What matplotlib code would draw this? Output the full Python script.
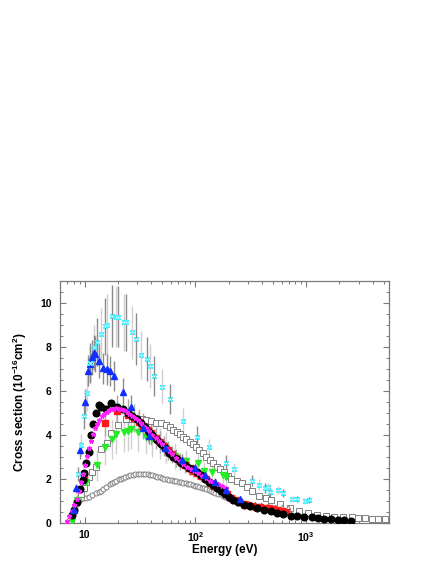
import numpy as np
import matplotlib
matplotlib.use('Agg')
import matplotlib.pyplot as plt
from matplotlib.ticker import FixedLocator, MultipleLocator, LogLocator, NullFormatter

plt.rcParams['font.family'] = ['Liberation Sans', 'DejaVu Sans']
plt.rcParams['mathtext.fontset'] = 'custom'
plt.rcParams['mathtext.rm'] = 'Liberation Sans'
plt.rcParams['mathtext.bf'] = 'Liberation Sans:bold'
plt.rcParams['mathtext.default'] = 'bf'

# --- data (energy in eV, cross section in 1e-16 cm^2) ---
cyan_x = [8.8, 9.33, 9.9, 10.5, 11.1, 12.1, 13.0, 13.95, 15.2, 16.0, 17.8, 19.1, 20.0,
          22.5, 23.8, 27.0, 28.9, 32.2, 36.9, 39.3, 42.1, 50.0, 58.9, 77.6, 104.5, 132,
          189, 223, 327, 373, 426, 456, 473, 555, 615, 742, 822, 980, 1070]
cyan_y = [2.23, 3.55, 4.88, 5.9, 7.26, 7.98, 8.24, 8.58, 8.95, 9.0, 9.41, 9.38, 9.38,
          9.12, 9.12, 8.67, 8.36, 7.64, 7.44, 7.14, 6.68, 6.2, 5.64, 4.62, 3.92, 3.44,
          2.74, 2.44, 1.91, 1.73, 1.58, 1.62, 1.42, 1.5, 1.38, 1.08, 1.08, 1.01, 1.05]
cyan_err = [0.3, 0.5, 0.6, 0.8, 0.9, 1.0, 1.1, 1.2, 1.3, 1.4, 1.4, 1.4, 1.4,
            1.3, 1.3, 1.2, 1.2, 1.1, 1.0, 1.0, 0.9, 0.8, 0.7, 0.6, 0.5, 0.4,
            0.35, 0.3, 0.25, 0.25, 0.22, 0.22, 0.22, 0.2, 0.18, 0.14, 0.14, 0.14, 0.14]

blue_x = [8.07, 8.4, 9.1, 10.1, 10.7, 11.1, 11.65, 12.1, 12.5, 13.4, 14.8, 16.0, 17.1,
          18.3, 22.2, 26.4, 33.5, 38, 53.6, 75, 100, 122, 150, 190, 253]
blue_y = [0.6, 1.58, 3.3, 5.51, 6.92, 7.23, 7.53, 7.74, 7.68, 7.38, 7.03, 6.99, 6.91,
          6.68, 5.97, 5.26, 4.3, 3.97, 3.39, 2.85, 2.49, 2.2, 1.85, 1.5, 1.08]
blue_err = [0.1, 0.2, 0.4, 0.6, 0.7, 0.8, 0.8, 0.8, 0.8, 0.8, 0.7, 0.7, 0.7,
            0.7, 0.6, 0.55, 0.45, 0.4, 0.35, 0.3, 0.25, 0.22, 0.2, 0.15, 0.12]

green_x = [7.68, 8.5, 10.35, 12.9, 15.4, 17.6, 19.3, 22.6, 24.6, 26, 30.3, 36.1, 40.9,
           47.6, 54, 65.5, 82, 104.6, 119, 142, 176, 191]
green_y = [0.1, 1.05, 1.88, 2.62, 3.45, 3.8, 4.05, 4.15, 4.18, 4.26, 4.15, 3.92, 3.8,
           3.62, 3.42, 3.05, 2.83, 2.74, 2.38, 2.33, 2.18, 2.08]
green_err = [0.1, 0.3, 0.5, 0.7, 0.8, 0.9, 0.9, 0.9, 0.9, 0.9, 0.9, 0.8, 0.8,
             0.7, 0.7, 0.6, 0.5, 0.5, 0.4, 0.4, 0.35, 0.35]

red_x = [9.9, 15.2, 19.8, 24.5, 28, 31, 34, 37, 40, 44, 48, 52, 57, 62, 67, 73, 80, 87,
         95, 104, 113, 124, 135, 148, 161, 176, 192, 210, 229, 250, 273, 298, 325, 355,
         387, 423, 461, 503, 549, 600, 655]
red_y = [2.08, 4.56, 5.1, 4.92, 4.78, 4.6, 4.42, 4.25, 4.08, 3.88, 3.68, 3.5, 3.3, 3.12,
         2.96, 2.8, 2.64, 2.5, 2.38, 2.28, 2.12, 1.98, 1.84, 1.7, 1.57, 1.44, 1.3, 1.15,
         1.05, 0.97, 0.88, 0.84, 0.79, 0.75, 0.72, 0.7, 0.67, 0.63, 0.6, 0.56, 0.52]
red_err = [0.3, 0.6, 0.7, 0.7, 0.65, 0.6, 0.6, 0.55, 0.55, 0.5, 0.5, 0.45, 0.45, 0.4,
           0.4, 0.38, 0.35, 0.33, 0.3, 0.28, 0.26, 0.24, 0.22, 0.2, 0.19, 0.18, 0.16,
           0.15, 0.13, 0.12, 0.11, 0.1, 0.1, 0.09, 0.09, 0.08, 0.08, 0.08, 0.07, 0.07, 0.07]

black_x = [7.7, 8.1, 8.6, 9.1, 9.6, 9.8, 10.4, 10.9, 11.4, 12.0, 12.7, 13.4, 14.2, 15.5,
           17.2, 19.7, 22.2, 24.5, 27.0, 29.5, 32, 35, 38, 41, 45, 49, 53, 58, 63, 68,
           74, 80, 87, 95, 103, 112, 122, 133, 145, 158, 172, 187, 200, 217, 244, 277,
           312, 363, 417, 482, 549, 621, 724, 831, 961, 1120, 1285, 1460, 1680, 1935,
           2210, 2540]
black_y = [0.36, 0.59, 0.95, 1.55, 1.95, 2.26, 2.75, 3.23, 4.0, 4.49, 4.98, 5.36, 5.29,
           5.2, 5.44, 5.29, 5.17, 5.0, 4.88, 4.72, 4.55, 4.35, 4.15, 3.98, 3.78, 3.58,
           3.4, 3.2, 3.02, 2.9, 2.75, 2.62, 2.5, 2.45, 2.32, 2.18, 2.02, 1.88, 1.74, 1.6,
           1.46, 1.32, 1.2, 1.06, 0.97, 0.84, 0.77, 0.67, 0.6, 0.55, 0.47, 0.41, 0.34,
           0.33, 0.29, 0.26, 0.21, 0.18, 0.17, 0.14, 0.14, 0.11]

magenta_x = [6.9, 7.3, 7.7, 8.1, 8.5, 8.9, 9.3, 9.7, 10.1, 10.5, 10.9, 11.4, 11.9, 12.4,
             13.0, 13.6, 14.3, 15.0, 15.8, 16.6, 17.5, 18.4, 19.4, 20.4, 21.5, 22.7,
             24.0, 25.4, 26.9, 28.5, 30.2, 32, 34, 36, 38.5, 41, 44, 47, 50, 54, 58, 62,
             67, 72, 78, 84, 91, 98, 106, 115, 125, 136, 148, 161, 175, 190]
magenta_y = [0.1, 0.3, 0.55, 0.8, 1.1, 1.45, 1.85, 2.25, 2.65, 3.05, 3.4, 3.75, 4.05,
             4.3, 4.52, 4.7, 4.85, 4.97, 5.06, 5.13, 5.18, 5.2, 5.21, 5.2, 5.17, 5.12,
             5.05, 4.96, 4.87, 4.77, 4.66, 4.55, 4.42, 4.3, 4.16, 4.02, 3.87, 3.72, 3.58,
             3.42, 3.26, 3.12, 2.97, 2.83, 2.68, 2.56, 2.44, 2.36, 2.28, 2.15, 2.03,
             1.93, 1.84, 1.77, 1.7, 1.6]

osq_x = [9.33, 9.79, 10.35, 11.0, 11.6, 12.7, 14.1, 15.9, 17.2, 20.0, 23.8, 27, 30, 33,
         36, 40, 44.5, 49.4, 54, 58.9, 63, 67.6, 72, 77.6, 83, 89, 95, 102, 109, 117,
         126, 135, 145, 156, 168, 182, 196, 212, 236, 262, 293, 327, 379, 430, 480, 582,
         714, 866, 1030, 1245, 1510, 1790, 2170, 2590, 2970, 3410, 3920, 4500, 5100]
osq_y = [1.3, 1.58, 1.85, 2.1, 2.33, 2.56, 3.35, 3.65, 4.08, 4.45, 4.71, 4.75, 4.75,
         4.72, 4.68, 4.62, 4.56, 4.56, 4.45, 4.38, 4.25, 4.15, 4.03, 3.92, 3.8, 3.7,
         3.58, 3.47, 3.32, 3.17, 3.0, 2.86, 2.72, 2.56, 2.44, 2.3, 2.15, 2.02, 1.92,
         1.83, 1.65, 1.47, 1.23, 1.13, 1.05, 0.86, 0.67, 0.55, 0.44, 0.36, 0.32, 0.26,
         0.26, 0.26, 0.21, 0.21, 0.18, 0.18, 0.17]

oci_x = [8.1, 8.5, 8.9, 9.3, 9.7, 10.2, 10.9, 11.7, 12.6, 13.4, 14.0, 14.6, 15.7, 16.8,
         17.6, 18.4, 19.4, 20.4, 21.3, 22.2, 23.4, 24.6, 25.9, 27.3, 28.8, 30.3, 31.9,
         33.5, 35.2, 37, 39, 41, 43.2, 45.5, 47.7, 50, 52.5, 55, 58, 61, 64, 67, 70.5,
         74, 78, 82, 86, 90, 94.5, 99, 104, 109, 114, 120, 126, 132, 138, 145, 152,
         160, 169, 178, 187, 196]
oci_y = [0.67, 0.88, 1.05, 1.1, 1.12, 1.15, 1.2, 1.27, 1.35, 1.42, 1.47, 1.53, 1.65,
         1.77, 1.83, 1.88, 1.93, 1.98, 2.02, 2.06, 2.1, 2.14, 2.17, 2.2, 2.22, 2.24,
         2.24, 2.24, 2.23, 2.21, 2.19, 2.16, 2.14, 2.11, 2.07, 2.04, 2.01, 1.98, 1.96,
         1.94, 1.92, 1.9, 1.88, 1.86, 1.83, 1.8, 1.78, 1.76, 1.73, 1.7, 1.67, 1.64,
         1.6, 1.57, 1.53, 1.5, 1.46, 1.42, 1.38, 1.34, 1.3, 1.25, 1.2, 1.15]

otri_x = [226, 262, 300, 345, 395, 450, 520, 600, 680]
otri_y = [1.05, 0.98, 0.92, 0.86, 0.81, 0.77, 0.74, 0.72, 0.71]

fig = plt.figure(figsize=(4.36, 5.64), dpi=100)
ax = fig.add_axes([60 / 436, 41 / 564, 329 / 436, 242 / 564])

dark = '#8a8a8a'
light = '#cfcfcf'
eb = dict(fmt='none', elinewidth=1.0, capsize=0, zorder=1)
ax.errorbar(cyan_x[::2], cyan_y[::2], yerr=cyan_err[::2], ecolor=dark, **eb)
ax.errorbar(cyan_x[1::2], cyan_y[1::2], yerr=cyan_err[1::2], ecolor=light, **eb)
ax.errorbar(blue_x, blue_y, yerr=blue_err, ecolor=dark, **eb)
ax.errorbar(green_x, green_y, yerr=green_err, ecolor=light, **eb)
ax.errorbar(red_x, red_y, yerr=red_err, ecolor='#a8a8a8', **eb)

ax.plot(oci_x, oci_y, 'o', ms=3.6, mfc='white', mec='#808080', mew=0.7, zorder=2)
ax.plot(osq_x, osq_y, 's', ms=4.0, mfc='white', mec='#808080', mew=0.7, zorder=2)
ax.plot(otri_x, otri_y, '^', ms=3.4, mfc='white', mec='#808080', mew=0.7, zorder=2)
ax.plot(green_x, green_y, 'v', ms=4.3, color='#22ee22', mec='#22ee22', zorder=3)
ax.plot(red_x, red_y, 's', ms=4.3, color='#ff1a1a', mec='#ff1a1a', zorder=3)
ax.plot(black_x, black_y, 'o', ms=4.8, color='black', zorder=4)
ax.plot(magenta_x, magenta_y, '*', ms=3.4, color='#ff22ff', mec='#ff22ff', zorder=5)
ax.plot(blue_x, blue_y, '^', ms=4.4, color='#1030ff', mec='#1030ff', zorder=5)
ax.plot(cyan_x, cyan_y, marker=(4, 2, 45), ls='none', ms=4.2, mec='#44eeff', mew=1.1, zorder=6)
ax.plot(cyan_x, cyan_y, 's', ms=2.0, mfc='#ccffff', mec='#66f0ff', mew=0.5, zorder=6)

ax.set_xscale('log')
ax.set_xlim(6, 5600)
ax.set_ylim(0, 11)

ax.xaxis.set_major_locator(FixedLocator([10, 100, 1000]))
ax.set_xticklabels(['10', r'10$^{2}$', r'10$^{3}$'])
ax.xaxis.set_minor_locator(LogLocator(base=10, subs=np.arange(2, 10)))
ax.xaxis.set_minor_formatter(NullFormatter())
ax.yaxis.set_major_locator(MultipleLocator(2))
ax.yaxis.set_minor_locator(MultipleLocator(0.5))

for s in ax.spines.values():
    s.set_color('#7a7a7a')
    s.set_linewidth(0.9)
ax.tick_params(which='both', direction='in', top=True, right=True, color='#7a7a7a',
               labelsize=7.5)
ax.tick_params(axis='x', pad=5)
ax.tick_params(axis='y', pad=6)
ax.tick_params(which='major', length=4.3, width=0.8)
ax.tick_params(which='minor', length=2.2, width=0.7)
for lab in ax.get_xticklabels() + ax.get_yticklabels():
    lab.set_fontweight('bold')

ax.set_xlabel('Energy (eV)', fontsize=8.5, fontweight='bold', labelpad=0)
ax.set_ylabel(r'Cross section (10$^{-16}$cm$^{2}$)', fontsize=8.5, fontweight='bold',
              labelpad=8)

fig.savefig('out.png', dpi=100)
